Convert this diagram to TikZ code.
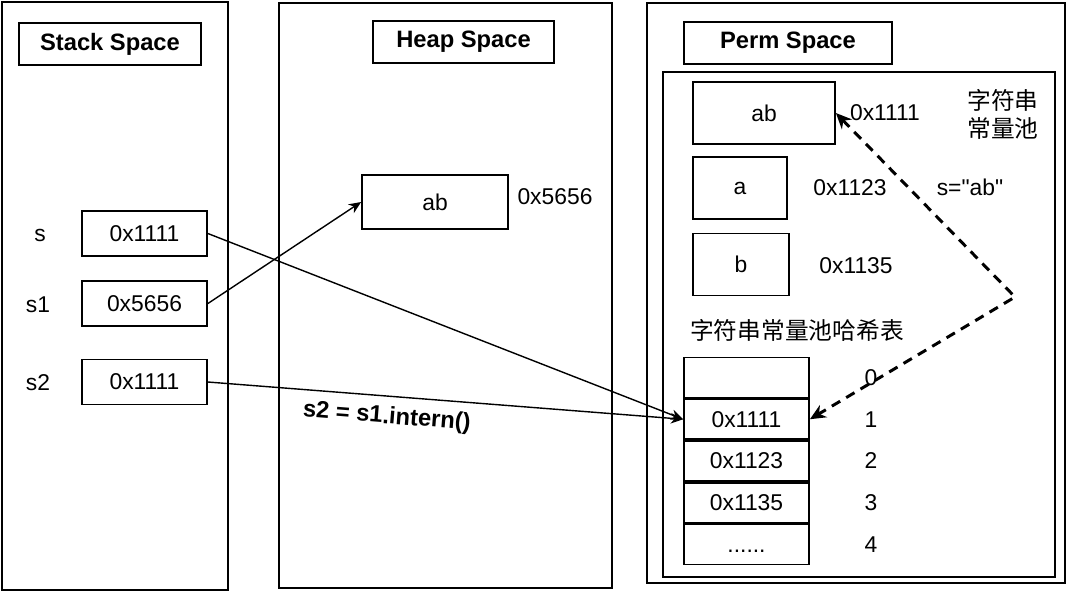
\documentclass[tikz,border=0pt]{standalone}
\usepackage{fontspec}
\setmainfont{Liberation Sans}
\newfontfamily\cjk{Noto Sans CJK SC}
\usetikzlibrary{arrows.meta,positioning}

\begin{document}
\begin{tikzpicture}[
    x=0.02cm, y=-0.02cm,
    >={Stealth[length=7pt,width=6pt]}, font=\fontsize{13}{15}\selectfont,
    region/.style={draw, line width=1pt, inner sep=0pt},
    title/.style={draw, line width=1pt, minimum height=8.4mm,
                  font=\fontsize{13.5}{16}\selectfont\bfseries},
    cell/.style={draw, line width=1pt, minimum width=25mm, minimum height=9mm},
    obj/.style={draw, line width=1pt, minimum height=12.4mm},
    slot/.style={draw, line width=1pt, minimum width=25mm, minimum height=8mm,
                 inner sep=0pt},
    cn/.style={font=\fontsize{13.5}{16}\selectfont\cjk, align=center},
    ref/.style={->, line width=0.8pt},
    lookup/.style={{Stealth[length=9pt,width=8pt]}-{Stealth[length=9pt,width=8pt]},
                   line width=1.7pt, dash pattern=on 5.5pt off 4pt},
  ]
  \useasboundingbox (0,0) rectangle (1068,593);

  % stack (left)
  \node[region, minimum width=45.2mm, minimum height=117.6mm] (stack) at (115,296) {};
  \node[title, minimum width=36.4mm] (stacktitle) at (110,44) {Stack Space};
  \node[cell] (s) at (144.5,233.5) {0x1111};
  \node[cell] (s1) at (144.5,303.5) {0x5656};
  \node[cell] (s2) at (144.5,382) {0x1111};
  \node (slbl) at (40,235) {s};
  \node (s1lbl) at (38,305) {s1};
  \node (s2lbl) at (38,383) {s2};

  % heap (middle)
  \node[region, minimum width=66.6mm, minimum height=117mm] (heap) at (445.5,295.5) {};
  \node[title, minimum width=36.2mm] (heaptitle) at (463.5,42) {Heap Space};
  \node[obj, minimum width=29.2mm, minimum height=10.8mm] (heapab) at (435,202) {ab};
  \node (heapaddr) at (555,197) {0x5656};

  % perm (right)
  \node[region, minimum width=83.6mm, minimum height=116mm] (perm) at (856,293) {};
  \node[region, minimum width=78.4mm, minimum height=101mm] (pool) at (859,324.5) {};
  \node[title, minimum width=41.6mm] (permtitle) at (788,43) {Perm Space};
  \node[obj, minimum width=28.4mm] (permab) at (764,113) {ab};
  \node[obj, minimum width=18.8mm] (a) at (740,188) {a};
  \node[obj, minimum width=19.2mm] (b) at (741,264.5) {b};
  \node (abaddr) at (885,113) {0x1111};
  \node (aaddr) at (850,188) {0x1123};
  \node (baddr) at (856,266) {0x1135};
  \node[cn] (pooltitle) at (1003,114) {字符串\\常量池};
  \node (sab) at (970,187) {s=\textquotedbl ab\textquotedbl};
  \node[cn] (tabletitle) at (797,330) {字符串常量池哈希表};

  % hash table
  \node[slot] (row0) at (746.5,377.5) {};
  \node[slot, below=0pt of row0] (row1) {0x1111};
  \node[slot, below=0pt of row1] (row2) {0x1123};
  \node[slot, below=0pt of row2] (row3) {0x1135};
  \node[slot, below=0pt of row3] (row4) {\raisebox{-4.5pt}[0pt][0pt]{......}};
  \coordinate (idxcol) at (871,0);
  \foreach \i in {0,...,4}
    \node (idx\i) at (row\i -| idxcol) {\i};

  % arrows
  \draw[ref] (s.east) -- (row1.west);
  \draw[ref] (s1.east) -- (heapab.west);
  \draw[ref] (s2.east) -- node[pos=0.38, below=2pt, sloped,
      font=\fontsize{13.5}{16}\selectfont\bfseries] (internlbl) {s2 = s1.intern()} (row1.west);
  \coordinate (bend) at (1015,297);
  \draw[lookup] (permab.east) -- (bend) -- (row1.east);
\end{tikzpicture}
\end{document}
